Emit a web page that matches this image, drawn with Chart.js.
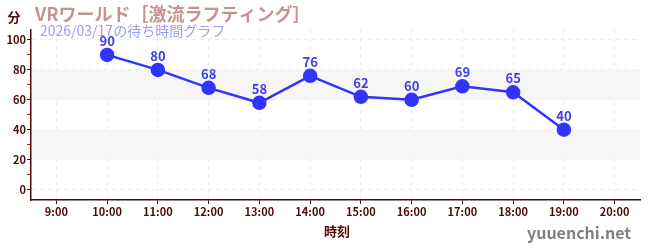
<!DOCTYPE html>
<html lang="ja">
<head>
<meta charset="UTF-8">
<title>VRワールド 待ち時間</title>
<script src="https://cdn.jsdelivr.net/npm/chart.js"></script>
<style>
  html, body { margin: 0; padding: 0; background: #fff; }
  #wrap { width: 650px; height: 250px; position: relative; }
</style>
</head>
<body>
<div id="wrap"><canvas id="waitChart" width="650" height="250"></canvas></div>
<script>
// data
const hours = ['9:00', '10:00', '11:00', '12:00', '13:00', '14:00', '15:00', '16:00', '17:00', '18:00', '19:00', '20:00'];
const waitMinutes = [null, 90, 80, 68, 58, 76, 62, 60, 69, 65, 40, null];
const bands = [[20, 40], [60, 80]];

const titleText = 'VRワールド［激流ラフティング］';
const subText = '2026/03/17の待ち時間グラフ';
const FONT = '"Noto Sans CJK JP", "Noto Sans", sans-serif';
const MAROON = '#4d0a0a';

// grey bands behind the line
const bandPlugin = {
  id: 'bands',
  beforeDatasetsDraw(chart) {
    const { ctx, chartArea, scales } = chart;
    ctx.save();
    ctx.fillStyle = '#f6f6f6';
    bands.forEach(([lo, hi]) => {
      const y1 = scales.y.getPixelForValue(hi);
      const y2 = scales.y.getPixelForValue(lo);
      ctx.fillRect(chartArea.left + 1, y1, chartArea.right - chartArea.left - 1, y2 - y1);
    });
    ctx.restore();
  }
};

// numbers above the points + page texts
const labelPlugin = {
  id: 'labels',
  afterDatasetsDraw(chart) {
    const { ctx } = chart;
    const meta = chart.getDatasetMeta(0);
    ctx.save();
    ctx.fillStyle = '#3b3bf0';
    ctx.font = 'bold 13px ' + FONT;
    ctx.textAlign = 'center';
    ctx.textBaseline = 'alphabetic';
    meta.data.forEach((pt, i) => {
      const v = waitMinutes[i];
      if (v === null) return;
      ctx.fillText(String(v), pt.x, pt.y - 9);
    });
    ctx.restore();
  },
  afterDraw(chart) {
    const { ctx } = chart;
    ctx.save();
    ctx.textBaseline = 'middle';
    ctx.textAlign = 'center';
    ctx.fillStyle = MAROON;
    ctx.font = 'bold 13px ' + FONT;
    ctx.fillText('分', 14, 17);
    ctx.fillText('時刻', 337, 231);

    ctx.textAlign = 'left';
    ctx.fillStyle = '#c49494';
    ctx.font = 'bold 18px ' + FONT;
    ctx.fillText(titleText, 35, 14);

    ctx.fillStyle = '#9c9cf2';
    ctx.font = '14px ' + FONT;
    ctx.fillText(subText, 40, 31);

    ctx.textAlign = 'right';
    ctx.textBaseline = 'alphabetic';
    ctx.fillStyle = '#808080';
    ctx.font = 'bold 16px ' + FONT;
    ctx.fillText('yuuenchi.net', 631, 239);
    ctx.restore();
  }
};

new Chart(document.getElementById('waitChart'), {
  type: 'line',
  data: {
    labels: hours,
    datasets: [{
      data: waitMinutes,
      borderColor: '#3333ff',
      backgroundColor: '#3333ff',
      borderWidth: 2.5,
      pointRadius: 6,
      pointHoverRadius: 6,
      tension: 0
    }]
  },
  options: {
    responsive: false,
    animation: false,
    layout: { padding: { left: 0, top: 29.5, right: 10, bottom: 0 } },
    plugins: {
      legend: { display: false },
      tooltip: { enabled: false }
    },
    scales: {
      x: {
        offset: true,
        afterFit: s => { s.height = 50; },
        grid: {
          offset: false,
          color: '#ececec',
          tickColor: MAROON,
          tickLength: 4,
          lineWidth: 1
        },
        border: { color: MAROON, width: 1.5, dash: [4, 4] },
        ticks: {
          color: MAROON,
          padding: 1,
          maxRotation: 0,
          autoSkip: false,
          font: { family: FONT, size: 11, weight: 'bold' }
        }
      },
      y: {
        min: -7,
        max: 107,
        afterFit: s => { s.width = 31; },
        afterBuildTicks: s => {
          const t = [];
          for (let v = 0; v <= 100; v += 10) t.push({ value: v });
          s.ticks = t;
        },
        grid: {
          color: c => (c.tick && c.tick.value % 20 === 0) ? '#ececec' : 'rgba(0,0,0,0)',
          tickColor: c => (c.tick && c.tick.value % 20 === 0) ? MAROON : '#e01010',
          tickLength: 4,
          lineWidth: 1
        },
        border: { color: MAROON, width: 1.5, dash: [4, 4] },
        ticks: {
          color: MAROON,
          padding: 1,
          callback: v => (v % 20 === 0 ? String(v) : ''),
          font: { family: FONT, size: 11, weight: 'bold' }
        }
      }
    }
  },
  plugins: [bandPlugin, labelPlugin]
});
</script>
</body>
</html>
